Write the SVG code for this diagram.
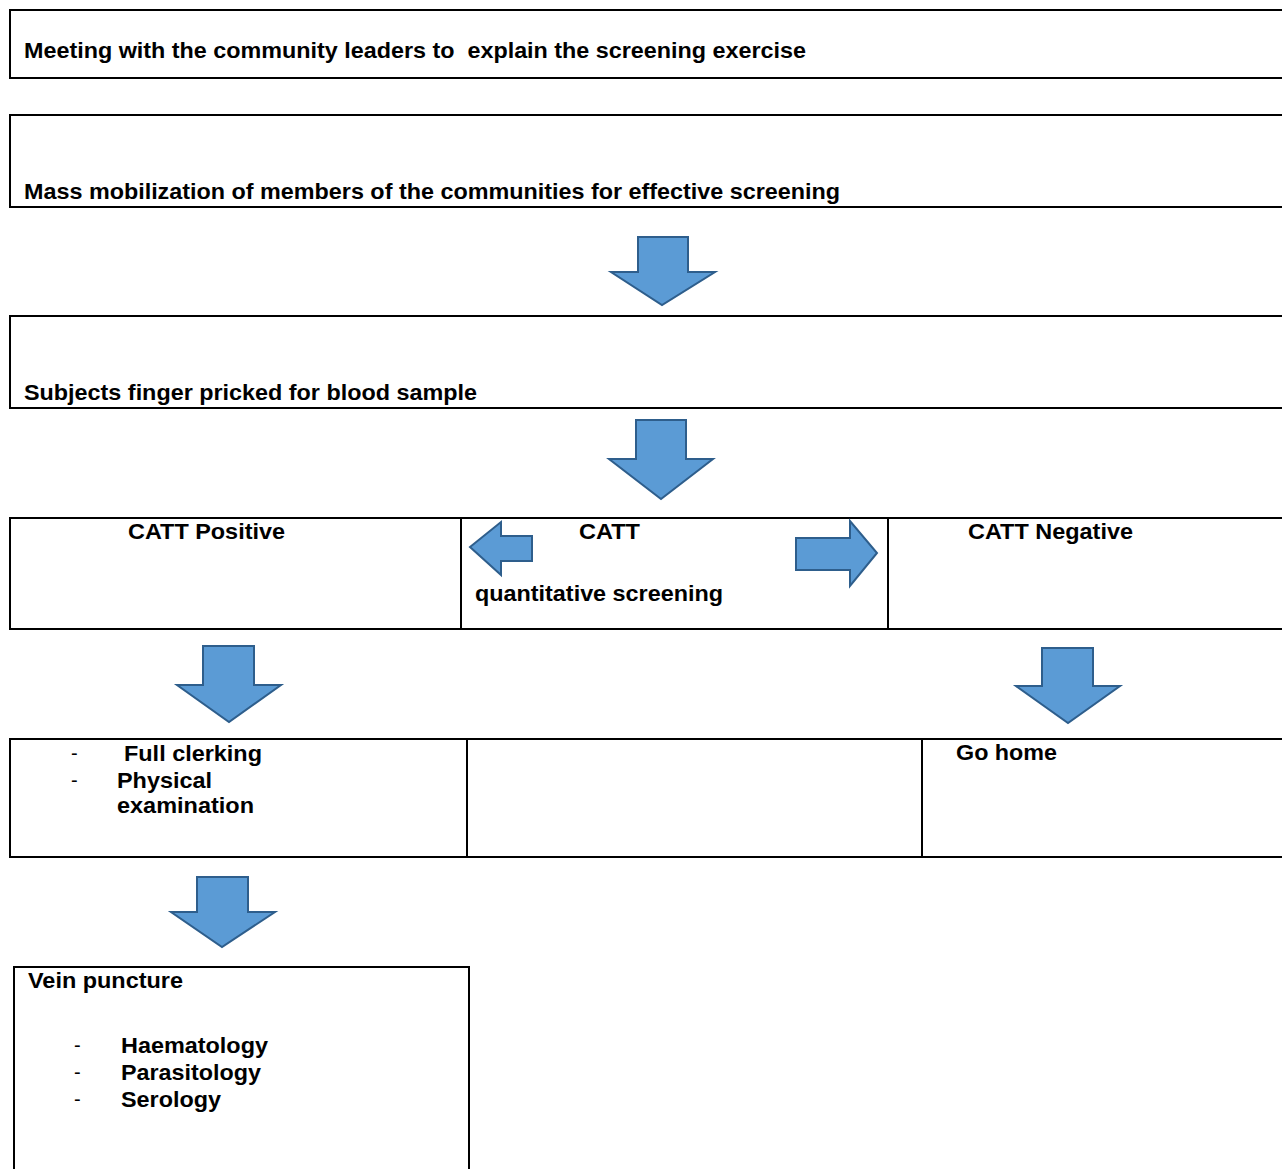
<svg xmlns="http://www.w3.org/2000/svg" width="1282" height="1169" viewBox="0 0 1282 1169">
<style>
.box{fill:#fff;stroke:#000;stroke-width:2}
.t{font-family:"Liberation Sans",Arial,sans-serif;font-weight:bold;font-size:22px;fill:#000;white-space:pre}
.d{font-family:"Liberation Sans",Arial,sans-serif;font-size:20px;fill:#000}
.arr{fill:#5B9BD5;stroke:#2E5E8C;stroke-width:2;stroke-linejoin:miter}
</style>
<rect width="1282" height="1169" fill="#fff"/>
<g id="n1"><rect class="box" x="10" y="10" width="1290" height="68"/>
<text class="t" x="24" y="58" textLength="782" lengthAdjust="spacingAndGlyphs" xml:space="preserve">Meeting with the community leaders to  explain the screening exercise</text></g>
<g id="n2"><rect class="box" x="10" y="115" width="1290" height="92"/>
<text class="t" x="24" y="199" textLength="816" lengthAdjust="spacingAndGlyphs">Mass mobilization of members of the communities for effective screening</text></g>
<g id="n3"><rect class="box" x="10" y="316" width="1290" height="92"/>
<text class="t" x="24" y="400" textLength="453" lengthAdjust="spacingAndGlyphs">Subjects finger pricked for blood sample</text></g>
<g id="n4"><rect class="box" x="10" y="518" width="451" height="111"/>
<text class="t" x="128" y="539" textLength="157" lengthAdjust="spacingAndGlyphs">CATT Positive</text></g>
<g id="n5"><rect class="box" x="461" y="518" width="427" height="111"/>
<text class="t" x="579" y="539" textLength="61" lengthAdjust="spacingAndGlyphs">CATT</text>
<text class="t" x="475" y="601" textLength="248" lengthAdjust="spacingAndGlyphs">quantitative screening</text></g>
<g id="n6"><rect class="box" x="888" y="518" width="420" height="111"/>
<text class="t" x="968" y="539" textLength="165" lengthAdjust="spacingAndGlyphs">CATT Negative</text></g>
<g id="n7"><rect class="box" x="10" y="739" width="457" height="118"/>
<text class="d" x="71" y="760">-</text>
<text class="t" x="124" y="761" textLength="138" lengthAdjust="spacingAndGlyphs">Full clerking</text>
<text class="d" x="71" y="787">-</text>
<text class="t" x="117" y="788" textLength="95" lengthAdjust="spacingAndGlyphs">Physical</text>
<text class="t" x="117" y="813" textLength="137" lengthAdjust="spacingAndGlyphs">examination</text></g>
<g id="n8"><rect class="box" x="467" y="739" width="455" height="118"/></g>
<g id="n9"><rect class="box" x="922" y="739" width="400" height="118"/>
<text class="t" x="956" y="760" textLength="101" lengthAdjust="spacingAndGlyphs">Go home</text></g>
<g id="n10"><rect class="box" x="14" y="967" width="455" height="230"/>
<text class="t" x="28" y="988" textLength="155" lengthAdjust="spacingAndGlyphs">Vein puncture</text>
<text class="d" x="74" y="1052">-</text>
<text class="t" x="121" y="1053" textLength="147" lengthAdjust="spacingAndGlyphs">Haematology</text>
<text class="d" x="74" y="1079">-</text>
<text class="t" x="121" y="1080" textLength="140" lengthAdjust="spacingAndGlyphs">Parasitology</text>
<text class="d" x="74" y="1106">-</text>
<text class="t" x="121" y="1107" textLength="100" lengthAdjust="spacingAndGlyphs">Serology</text></g>
<g id="connectors">
<polygon class="arr" points="638,237 688,237 688,272 715,272 662,305 611,272 638,272"/>
<polygon class="arr" points="636,420 686,420 686,459 713,459 661,499 609,459 636,459"/>
<polygon class="arr" points="532,536 532,561 501,561 501,575 470,547 501,522 501,536"/>
<polygon class="arr" points="796,538 850,538 850,521 877,553 850,586 850,570 796,570"/>
<polygon class="arr" points="203,646 254,646 254,685 281,685 229,722 177,685 203,685"/>
<polygon class="arr" points="1042,648 1093,648 1093,686 1120,686 1068,723 1016,686 1042,686"/>
<polygon class="arr" points="197,877 248,877 248,912 275,912 222,947 171,912 197,912"/>
</g>
</svg>
